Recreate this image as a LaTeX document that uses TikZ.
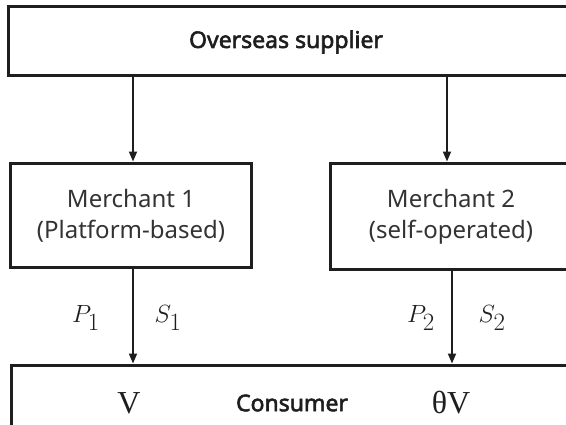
\documentclass[tikz,border=0pt]{standalone}
\usepackage{fontspec}
\setmainfont{Noto Sans}
\newfontfamily\titlefont{Noto Sans}[FakeBold=2.4]
\newfontfamily\serifv{Liberation Serif}
\usetikzlibrary{arrows.meta}
\definecolor{ink}{HTML}{1E1E1E}
\definecolor{soft}{HTML}{333333}
\begin{document}
\begin{tikzpicture}[x=1pt,y=-1pt,
  boxline/.style={draw=ink,line width=3pt},
  flow/.style={draw=ink,line width=1.8pt,-{Triangle[length=10pt,width=8pt]}},
  title/.style={text=ink,font=\fontsize{23}{27}\selectfont\titlefont},
  merch/.style={text=soft,align=center,font=\fontsize{24}{31}\selectfont},
  lab/.style={text=ink,font=\fontsize{34}{38}\selectfont},
  val/.style={text=ink,font=\fontsize{32}{36}\selectfont\serifv}]
\useasboundingbox (0,0) rectangle (566,424);
\fill[white] (0,0) rectangle (566,424);
\clip (0,0) rectangle (566,424);
% boxes
\draw[boxline] (8,6) rectangle (620,75);
\draw[boxline] (10,163) rectangle (251,267);
\draw[boxline] (330,163) rectangle (620,269);
\draw[boxline] (11,365) rectangle (620,450);
% anchor coordinates
\coordinate (s1) at (133,76.5);
\coordinate (m1t) at (133,161.5);
\coordinate (s2) at (447,76.5);
\coordinate (m2t) at (447,161.5);
\coordinate (m1b) at (133,268.5);
\coordinate (c1) at (133,363.5);
\coordinate (m2b) at (452,270.5);
\coordinate (c2) at (452,363.5);
% texts
\node[title] (sup) at (286,42) {Overseas supplier};
\node[merch] (mA) at (131,216) {Merchant 1\\(Platform-based)};
\node[merch] (mB) at (451,217) {Merchant 2\\(self-operated)};
\node[title] (con) at (292,403) {Consumer};
\node[val] (v1) at (129,403) {V};
\node[val] (v2) at (451,403) {θV};
\node[lab] (p1) at (86,318) {$P_1$};
\node[lab] (q1) at (168,318) {$S_1$};
\node[lab] (p2) at (421,318) {$P_2$};
\node[lab] (q2) at (492,318) {$S_2$};
% connectors
\draw[flow] (s1) -- (m1t);
\draw[flow] (s2) -- (m2t);
\draw[flow] (m1b) -- (c1);
\draw[flow] (m2b) -- (c2);
\end{tikzpicture}
\end{document}
